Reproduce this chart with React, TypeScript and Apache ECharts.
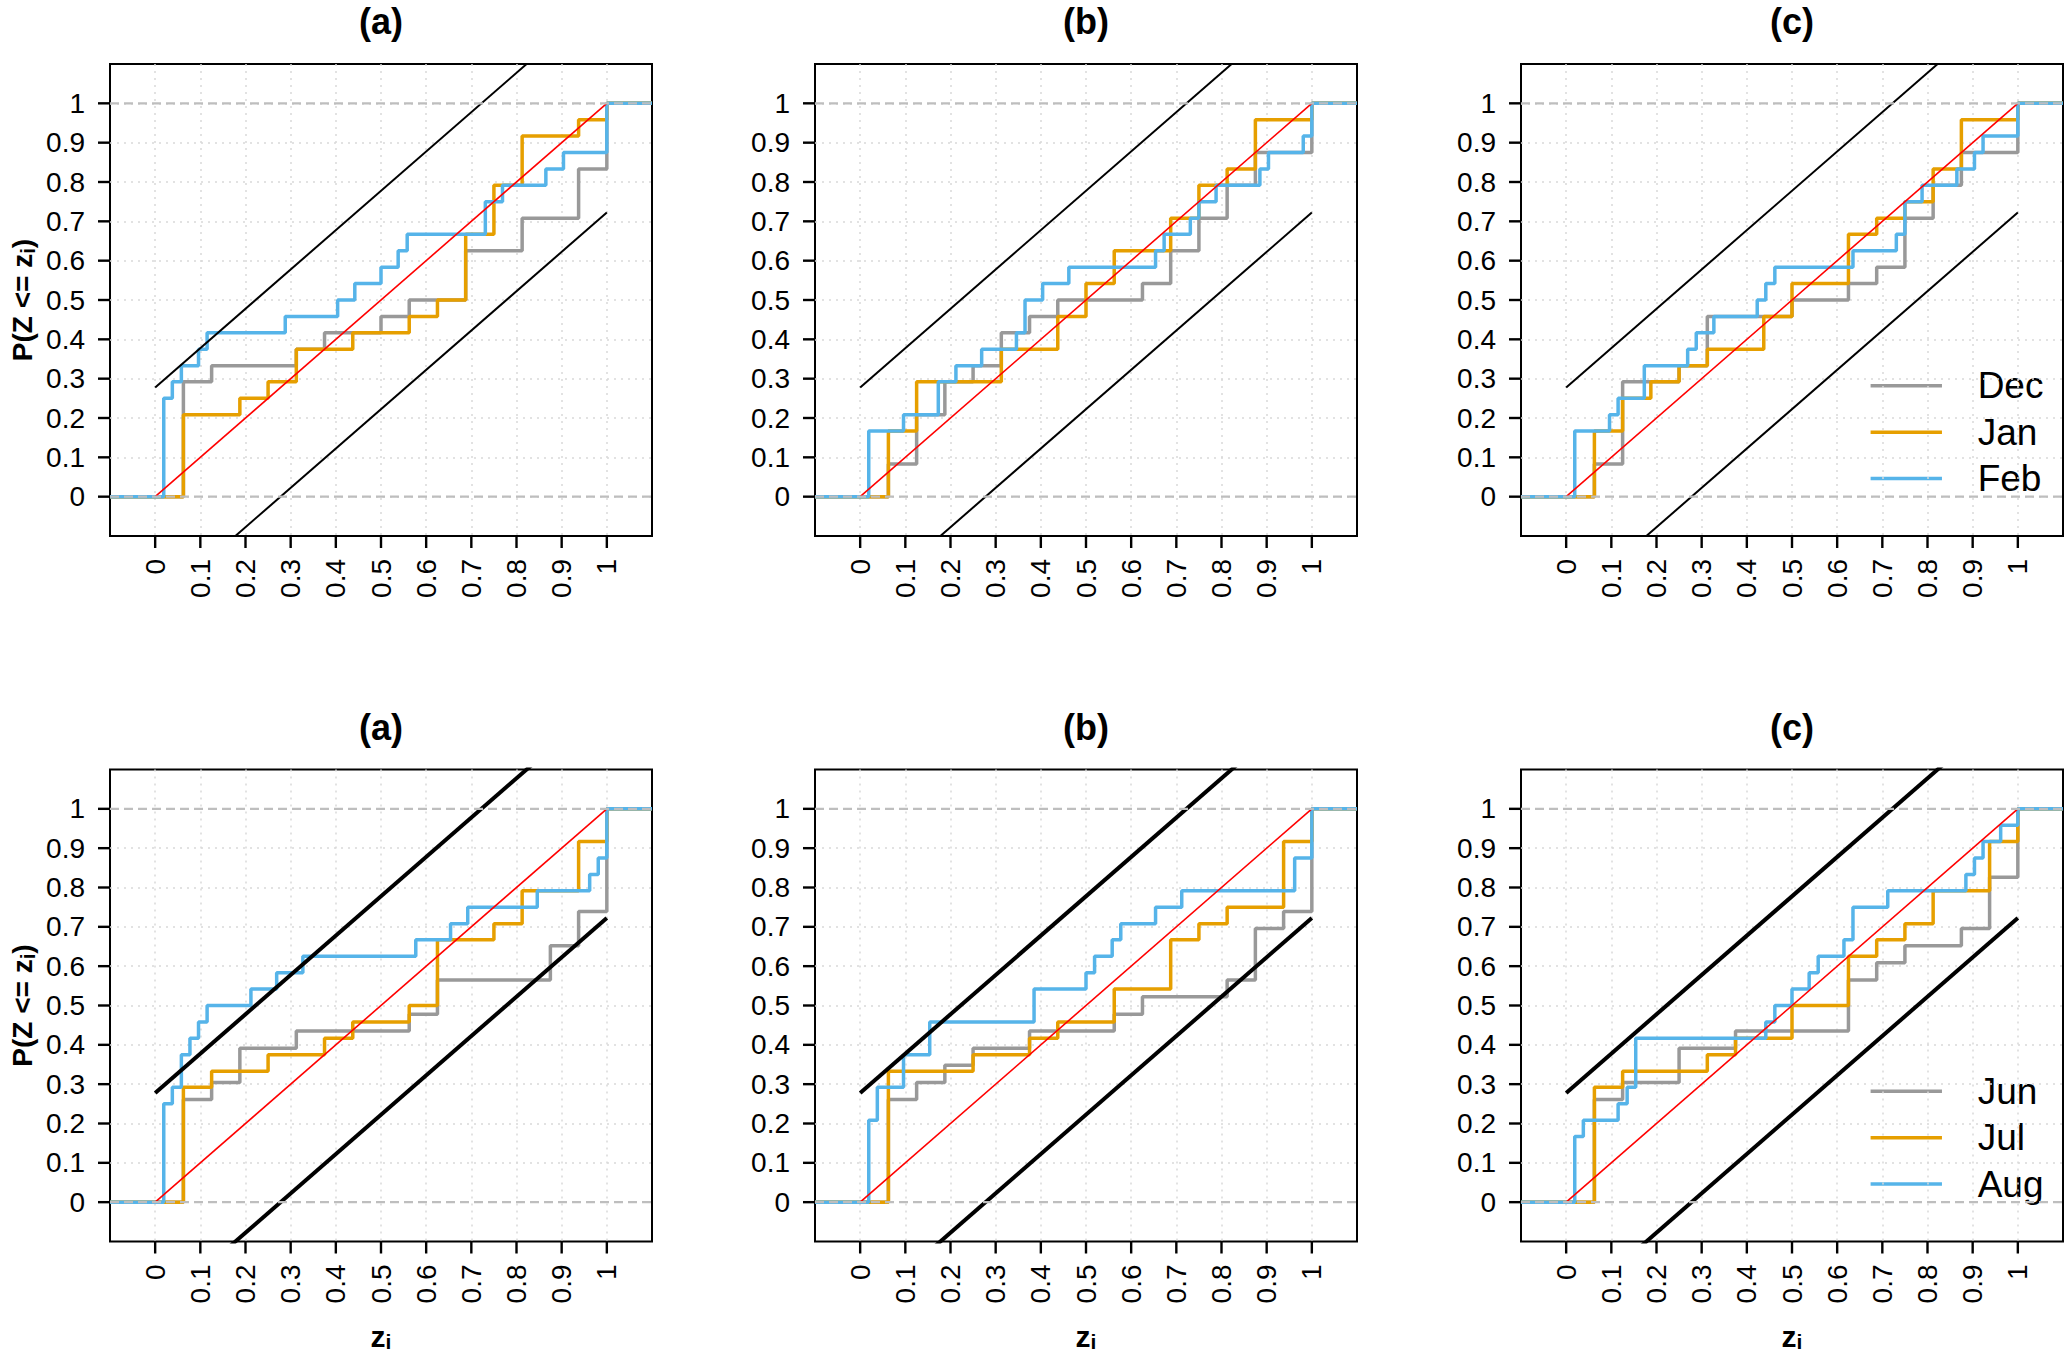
import React, { useEffect, useRef } from "react";
import * as echarts from "echarts";

// ---------------- data ----------------
const TICK_VALUES = [0, 0.1, 0.2, 0.3, 0.4, 0.5, 0.6, 0.7, 0.8, 0.9, 1];
const PANEL_TITLES = ["(a)", "(b)", "(c)"];
const TOP_MONTHS = ["Dec", "Jan", "Feb"];
const BOTTOM_MONTHS = ["Jun", "Jul", "Aug"];
const BAND_HALF_WIDTH = 0.2776;

// Top row, panel (a)
const TA_DEC_X = [0.0625, 0.125, 0.3125, 0.375, 0.5, 0.5625, 0.6875, 0.8125, 0.9375, 1];
const TA_DEC_Y = [0.292, 0.333, 0.375, 0.417, 0.458, 0.5, 0.625, 0.708, 0.833, 1];
const TA_JAN_X = [0.0625, 0.1875, 0.25, 0.3125, 0.4375, 0.5625, 0.625, 0.6875, 0.75, 0.8125, 0.9375, 1];
const TA_JAN_Y = [0.208, 0.25, 0.292, 0.375, 0.417, 0.458, 0.5, 0.667, 0.792, 0.917, 0.958, 1];
const TA_FEB_X = [0.019, 0.038, 0.058, 0.096, 0.115, 0.288, 0.404, 0.442, 0.5, 0.538, 0.558, 0.731, 0.769, 0.865, 0.904, 1];
const TA_FEB_Y = [0.25, 0.292, 0.333, 0.375, 0.417, 0.458, 0.5, 0.542, 0.583, 0.625, 0.667, 0.75, 0.792, 0.833, 0.875, 1];

// Top row, panel (b)
const TB_DEC_X = [0.0625, 0.125, 0.1875, 0.25, 0.3125, 0.375, 0.4375, 0.625, 0.6875, 0.75, 0.8125, 0.875, 1];
const TB_DEC_Y = [0.083, 0.208, 0.292, 0.333, 0.417, 0.458, 0.5, 0.542, 0.625, 0.708, 0.792, 0.875, 1];
const TB_JAN_X = [0.0625, 0.125, 0.3125, 0.4375, 0.5, 0.5625, 0.6875, 0.75, 0.8125, 0.875, 1];
const TB_JAN_Y = [0.167, 0.292, 0.375, 0.458, 0.542, 0.625, 0.708, 0.792, 0.833, 0.958, 1];
const TB_FEB_X = [0.019, 0.096, 0.173, 0.212, 0.269, 0.346, 0.365, 0.404, 0.462, 0.654, 0.673, 0.731, 0.75, 0.788, 0.885, 0.904, 0.981, 1];
const TB_FEB_Y = [0.167, 0.208, 0.292, 0.333, 0.375, 0.417, 0.5, 0.542, 0.583, 0.625, 0.667, 0.708, 0.75, 0.792, 0.833, 0.875, 0.917, 1];

// Top row, panel (c)
const TC_DEC_X = [0.0625, 0.125, 0.25, 0.3125, 0.5, 0.625, 0.6875, 0.75, 0.8125, 0.875, 1];
const TC_DEC_Y = [0.083, 0.292, 0.333, 0.458, 0.5, 0.542, 0.583, 0.708, 0.792, 0.875, 1];
const TC_JAN_X = [0.0625, 0.125, 0.1875, 0.25, 0.3125, 0.4375, 0.5, 0.625, 0.6875, 0.75, 0.8125, 0.875, 1];
const TC_JAN_Y = [0.167, 0.25, 0.292, 0.333, 0.375, 0.458, 0.542, 0.667, 0.708, 0.75, 0.833, 0.958, 1];
const TC_FEB_X = [0.019, 0.096, 0.115, 0.173, 0.269, 0.288, 0.327, 0.423, 0.442, 0.462, 0.635, 0.731, 0.75, 0.788, 0.865, 0.904, 0.923, 1];
const TC_FEB_Y = [0.167, 0.208, 0.25, 0.333, 0.375, 0.417, 0.458, 0.5, 0.542, 0.583, 0.625, 0.667, 0.75, 0.792, 0.833, 0.875, 0.917, 1];

// Bottom row, panel (a)
const BA_JUN_X = [0.0625, 0.125, 0.1875, 0.3125, 0.5625, 0.625, 0.875, 0.9375, 1];
const BA_JUN_Y = [0.261, 0.304, 0.391, 0.435, 0.478, 0.565, 0.652, 0.739, 1];
const BA_JUL_X = [0.0625, 0.125, 0.25, 0.375, 0.4375, 0.5625, 0.625, 0.75, 0.8125, 0.9375, 1];
const BA_JUL_Y = [0.292, 0.333, 0.375, 0.417, 0.458, 0.5, 0.667, 0.708, 0.792, 0.917, 1];
const BA_AUG_X = [0.019, 0.038, 0.058, 0.077, 0.096, 0.115, 0.212, 0.269, 0.327, 0.577, 0.654, 0.692, 0.846, 0.962, 0.981, 1];
const BA_AUG_Y = [0.25, 0.292, 0.375, 0.417, 0.458, 0.5, 0.542, 0.583, 0.625, 0.667, 0.708, 0.75, 0.792, 0.833, 0.875, 1];

// Bottom row, panel (b)
const BB_JUN_X = [0.0625, 0.125, 0.1875, 0.25, 0.375, 0.5625, 0.625, 0.8125, 0.875, 0.9375, 1];
const BB_JUN_Y = [0.261, 0.304, 0.348, 0.391, 0.435, 0.478, 0.522, 0.565, 0.696, 0.739, 1];
const BB_JUL_X = [0.0625, 0.25, 0.375, 0.4375, 0.5625, 0.6875, 0.75, 0.8125, 0.9375, 1];
const BB_JUL_Y = [0.333, 0.375, 0.417, 0.458, 0.542, 0.667, 0.708, 0.75, 0.917, 1];
const BB_AUG_X = [0.019, 0.038, 0.096, 0.154, 0.385, 0.5, 0.519, 0.558, 0.577, 0.654, 0.712, 0.962, 1];
const BB_AUG_Y = [0.208, 0.292, 0.375, 0.458, 0.542, 0.583, 0.625, 0.667, 0.708, 0.75, 0.792, 0.875, 1];

// Bottom row, panel (c)
const BC_JUN_X = [0.0625, 0.125, 0.25, 0.375, 0.625, 0.6875, 0.75, 0.875, 0.9375, 1];
const BC_JUN_Y = [0.261, 0.304, 0.391, 0.435, 0.565, 0.609, 0.652, 0.696, 0.826, 1];
const BC_JUL_X = [0.0625, 0.125, 0.3125, 0.375, 0.5, 0.625, 0.6875, 0.75, 0.8125, 0.9375, 1];
const BC_JUL_Y = [0.292, 0.333, 0.375, 0.417, 0.5, 0.625, 0.667, 0.708, 0.792, 0.917, 1];
const BC_AUG_X = [0.019, 0.038, 0.115, 0.135, 0.154, 0.442, 0.462, 0.5, 0.538, 0.558, 0.615, 0.635, 0.712, 0.885, 0.904, 0.923, 0.962, 1];
const BC_AUG_Y = [0.167, 0.208, 0.25, 0.292, 0.417, 0.458, 0.5, 0.542, 0.583, 0.625, 0.667, 0.75, 0.792, 0.833, 0.875, 0.917, 0.958, 1];

// ---------------- layout / style ----------------
const W = 2066;
const H = 1359;
const X_MIN = -0.1;
const X_MAX = 1.1;
const GRID_LEFTS = [110, 815, 1521];
const GRID_TOPS = [64, 769.5];
const GRID_W = 542;
const GRID_H = 472;
const TICK_LEN = 12;
const TICK_W = 2.4;
const COLORS = ["#999999", "#E69F00", "#56B4E9"];
const FONT = '"Liberation Sans", Arial, Helvetica, sans-serif';

const PANELS = [
  { row: 0, col: 0, months: TOP_MONTHS, xs: [TA_DEC_X, TA_JAN_X, TA_FEB_X], ys: [TA_DEC_Y, TA_JAN_Y, TA_FEB_Y] },
  { row: 0, col: 1, months: TOP_MONTHS, xs: [TB_DEC_X, TB_JAN_X, TB_FEB_X], ys: [TB_DEC_Y, TB_JAN_Y, TB_FEB_Y] },
  { row: 0, col: 2, months: TOP_MONTHS, xs: [TC_DEC_X, TC_JAN_X, TC_FEB_X], ys: [TC_DEC_Y, TC_JAN_Y, TC_FEB_Y] },
  { row: 1, col: 0, months: BOTTOM_MONTHS, xs: [BA_JUN_X, BA_JUL_X, BA_AUG_X], ys: [BA_JUN_Y, BA_JUL_Y, BA_AUG_Y] },
  { row: 1, col: 1, months: BOTTOM_MONTHS, xs: [BB_JUN_X, BB_JUL_X, BB_AUG_X], ys: [BB_JUN_Y, BB_JUL_Y, BB_AUG_Y] },
  { row: 1, col: 2, months: BOTTOM_MONTHS, xs: [BC_JUN_X, BC_JUL_X, BC_AUG_X], ys: [BC_JUN_Y, BC_JUL_Y, BC_AUG_Y] },
];

function stepData(xs: number[], ys: number[]) {
  const pts: number[][] = [[X_MIN, 0]];
  xs.forEach((x, i) => pts.push([x, ys[i]]));
  pts.push([X_MAX, 1]);
  return pts;
}

// pixel helpers that mirror the axis scale (legend placement)
const pxX = (col: number, v: number) => GRID_LEFTS[col] + ((v - X_MIN) / (X_MAX - X_MIN)) * GRID_W;
const pxY = (row: number, v: number) => GRID_TOPS[row] + GRID_H - ((v - X_MIN) / (X_MAX - X_MIN)) * GRID_H;

function buildGraphic() {
  const graphic: any[] = [];
  PANELS.forEach((p) => {
    graphic.push({
      type: "text",
      x: GRID_LEFTS[p.col] + GRID_W / 2,
      y: GRID_TOPS[p.row] - 42.5,
      style: {
        text: PANEL_TITLES[p.col],
        font: `bold 36px ${FONT}`,
        fill: "#000",
        align: "center",
        verticalAlign: "middle",
      },
    });
    if (p.col === 0) {
      graphic.push({
        type: "text",
        x: 22,
        y: GRID_TOPS[p.row] + GRID_H / 2,
        rotation: Math.PI / 2,
        style: {
          text: "{m|P(Z <= z}{s|i}{m|)}",
          align: "center",
          verticalAlign: "middle",
          fill: "#000",
          rich: {
            m: { fontFamily: FONT, fontWeight: "bold", fontSize: 28, lineHeight: 32, fill: "#000" },
            s: { fontFamily: FONT, fontWeight: "bold", fontSize: 20, lineHeight: 14, verticalAlign: "bottom", fill: "#000" },
          },
        },
      });
    }
    if (p.row === 1) {
      graphic.push({
        type: "text",
        x: GRID_LEFTS[p.col] + GRID_W / 2,
        y: 1336,
        style: {
          text: "{m|z}{s|i}",
          align: "center",
          verticalAlign: "middle",
          fill: "#000",
          rich: {
            m: { fontFamily: FONT, fontWeight: "bold", fontSize: 30, lineHeight: 32, fill: "#000" },
            s: { fontFamily: FONT, fontWeight: "bold", fontSize: 21, lineHeight: 14, verticalAlign: "bottom", fill: "#000" },
          },
        },
      });
    }
    if (p.col === 2) {
      const legendY = [0.282, 0.164, 0.046];
      p.months.forEach((m, k) => {
        const y = pxY(p.row, legendY[k]);
        graphic.push({
          type: "line",
          shape: { x1: pxX(p.col, 0.674), y1: y, x2: pxX(p.col, 0.832), y2: y },
          style: { stroke: COLORS[k], lineWidth: 3.5 },
        });
        graphic.push({
          type: "text",
          x: pxX(p.col, 0.911),
          y: y,
          style: {
            text: m,
            font: `37px ${FONT}`,
            fill: "#000",
            align: "left",
            verticalAlign: "middle",
          },
        });
      });
    }
  });
  return graphic;
}

// tick marks drawn through the axes' own scale (api.coord), as filled bars outside the plot box
function renderTicks(params: any, api: any) {
  const v = api.value(0);
  const [x, yBottom] = api.coord([v, X_MIN]);
  const [xLeft, y] = api.coord([X_MIN, v]);
  return {
    type: "group",
    children: [
      {
        type: "rect",
        shape: { x: x - TICK_W / 2, y: yBottom, width: TICK_W, height: TICK_LEN },
        style: { fill: "#000" },
      },
      {
        type: "rect",
        shape: { x: xLeft - TICK_LEN, y: y - TICK_W / 2, width: TICK_LEN, height: TICK_W },
        style: { fill: "#000" },
      },
    ],
  };
}

function buildOption() {
  const grid: any[] = [];
  const xAxis: any[] = [];
  const yAxis: any[] = [];
  const series: any[] = [];

  const dotted = { color: "#D9D9D9", width: 1.5, type: [2, 5] };

  PANELS.forEach((p, i) => {
    grid.push({
      left: GRID_LEFTS[p.col],
      top: GRID_TOPS[p.row],
      width: GRID_W,
      height: GRID_H,
      show: true,
      borderColor: "#000",
      borderWidth: 2,
      backgroundColor: "transparent",
      containLabel: false,
      outerBoundsMode: "none",
    });
    const axisCommon = {
      gridIndex: i,
      type: "value",
      min: X_MIN,
      max: X_MAX,
      interval: 0.1,
      axisLine: { show: false, onZero: false },
      axisTick: { show: false },
      splitLine: { show: true, showMinLine: false, showMaxLine: false, lineStyle: dotted },
    };
    const fmt = (v: number) => (v < -1e-9 || v > 1 + 1e-9 ? "" : String(Math.round(v * 10) / 10));
    xAxis.push({
      ...axisCommon,
      position: "bottom",
      axisLabel: {
        customValues: TICK_VALUES,
        rotate: 90,
        margin: 23,
        fontSize: 28,
        color: "#000",
        fontFamily: FONT,
        formatter: fmt,
      },
    });
    yAxis.push({
      ...axisCommon,
      position: "left",
      axisLabel: {
        customValues: TICK_VALUES,
        margin: 25,
        fontSize: 28,
        color: "#000",
        fontFamily: FONT,
        formatter: fmt,
      },
    });

    const common = { xAxisIndex: i, yAxisIndex: i, type: "line", symbol: "none", silent: true, clip: true };
    p.months.forEach((m, k) => {
      series.push({
        ...common,
        name: m,
        step: "end",
        data: stepData(p.xs[k], p.ys[k]),
        lineStyle: { color: COLORS[k], width: 3.5 },
      });
    });
    series.push({ ...common, name: "diag", data: [[0, 0], [1, 1]], lineStyle: { color: "#FF0000", width: 1.6 } });
    const bw = p.row === 0 ? 2 : 4;
    series.push({
      ...common,
      name: "upper",
      data: [[0, BAND_HALF_WIDTH], [1, 1 + BAND_HALF_WIDTH]],
      lineStyle: { color: "#000", width: bw },
    });
    series.push({
      ...common,
      name: "lower",
      data: [[0, -BAND_HALF_WIDTH], [1, 1 - BAND_HALF_WIDTH]],
      lineStyle: { color: "#000", width: bw },
    });
    [0, 1].forEach((lv) => {
      series.push({
        ...common,
        name: "ref" + lv,
        data: [[X_MIN, lv], [X_MAX, lv]],
        lineStyle: { color: "#BEBEBE", width: 2.4, type: [9, 5] },
      });
    });
    series.push({
      type: "custom",
      name: "ticks",
      xAxisIndex: i,
      yAxisIndex: i,
      silent: true,
      clip: false,
      z: 10,
      data: TICK_VALUES.map((v) => [v]),
      encode: { x: 0 },
      renderItem: renderTicks,
    });
  });

  return {
    animation: false,
    backgroundColor: "#fff",
    grid,
    xAxis,
    yAxis,
    series,
    graphic: { elements: buildGraphic() },
  };
}

export default function App() {
  const ref = useRef<HTMLDivElement>(null);
  useEffect(() => {
    if (!ref.current) return;
    const chart = echarts.init(ref.current, null, { renderer: "svg" });
    chart.setOption(buildOption() as any);
    return () => chart.dispose();
  }, []);
  return (
    <div
      ref={ref}
      style={{ position: "fixed", left: 0, top: 0, width: W + "px", height: H + "px", background: "#fff" }}
    />
  );
}
